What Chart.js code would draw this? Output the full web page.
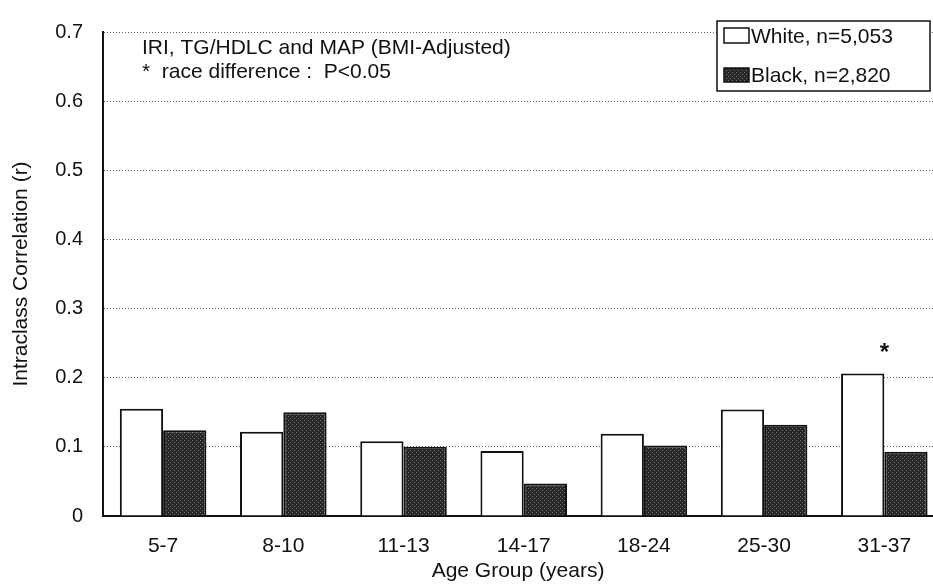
<!DOCTYPE html>
<html>
<head>
<meta charset="utf-8">
<title>Intraclass Correlation by Age Group</title>
<script src="https://cdn.jsdelivr.net/npm/chart.js@4/dist/chart.umd.min.js"></script>
<style>
  body { margin: 0; background: #fff; overflow: hidden; }
  canvas { display: block; }
</style>
</head>
<body>
<canvas id="myChart" width="933" height="585"></canvas>
<script>
'use strict';

// data
let ageGroups = ['5-7', '8-10', '11-13', '14-17', '18-24', '25-30', '31-37'];
let whiteValues = [0.155, 0.122, 0.108, 0.094, 0.119, 0.154, 0.206];
let blackValues = [0.124, 0.150, 0.100, 0.047, 0.102, 0.132, 0.093];
let yTicks = [0, 0.1, 0.2, 0.3, 0.4, 0.5, 0.6, 0.7];
let seriesNames = ['White, n=5,053', 'Black, n=2,820'];
let noteLines = ['IRI, TG/HDLC and MAP (BMI-Adjusted)', '*  race difference :  P<0.05'];
let starGroups = [6];

const FONT = '"Liberation Sans", Arial, Helvetica, sans-serif';

// speckled dark fill like the printed bars
function darkPattern() {
  let c = document.createElement('canvas');
  c.width = 4;
  c.height = 4;
  let g = c.getContext('2d');
  g.fillStyle = '#262626';
  g.fillRect(0, 0, 4, 4);
  g.fillStyle = '#7a7a7a';
  g.fillRect(0, 0, 1, 1);
  g.fillRect(2, 2, 1, 1);
  return g.createPattern(c, 'repeat');
}
const blackFill = darkPattern();

function toPoints(values) {
  let pts = [];
  for (let i = 0; i < values.length; i++) {
    pts.push({ x: i, y: values[i] });
  }
  return pts;
}

// notes, legend box and the asterisk
const extras = {
  id: 'extras',
  afterDraw(chart) {
    const ctx = chart.ctx;
    ctx.save();
    ctx.fillStyle = '#111';
    ctx.font = '21px ' + FONT;
    ctx.textAlign = 'left';
    ctx.textBaseline = 'alphabetic';
    ctx.fillText(noteLines[0], 142, 54);
    ctx.fillText(noteLines[1], 142, 78);

    // legend
    ctx.fillStyle = '#fff';
    ctx.fillRect(717, 21, 213, 70);
    ctx.strokeStyle = '#111';
    ctx.lineWidth = 1.5;
    ctx.strokeRect(717, 21, 213, 70);

    ctx.fillStyle = '#fff';
    ctx.fillRect(724, 28, 25, 15);
    ctx.strokeRect(724, 28, 25, 15);
    ctx.fillStyle = blackFill;
    ctx.fillRect(724, 68, 25, 14);
    ctx.strokeRect(724, 68, 25, 14);

    ctx.fillStyle = '#111';
    ctx.font = '21px ' + FONT;
    ctx.textBaseline = 'middle';
    ctx.fillText(chart.data.datasets[0].label, 751, 37);
    ctx.fillText(chart.data.datasets[1].label, 751, 76);

    // asterisk
    const xs = chart.scales.x;
    const ys = chart.scales.y;
    ctx.font = 'bold 24px ' + FONT;
    ctx.textAlign = 'center';
    for (let i = 0; i < starGroups.length; i++) {
      let k = starGroups[i];
      let top = Math.max(whiteValues[k], blackValues[k]);
      ctx.fillText('*', xs.getPixelForValue(k), ys.getPixelForValue(top) - 20);
    }
    ctx.restore();
  }
};

let ctx = document.getElementById('myChart').getContext('2d');
let myChart = new Chart(ctx, {
  type: 'bar',
  data: {
    datasets: [{
      label: seriesNames[0],
      data: toPoints(whiteValues),
      backgroundColor: '#fff',
      borderColor: '#111',
      borderWidth: 2
    }, {
      label: seriesNames[1],
      data: toPoints(blackValues),
      backgroundColor: blackFill,
      borderColor: '#111',
      borderWidth: 2
    }]
  },
  options: {
    responsive: false,
    animation: false,
    devicePixelRatio: 1,
    categoryPercentage: 0.72,
    barPercentage: 1.0,
    layout: { padding: { top: 19, right: 0, left: 0, bottom: 0 } },
    plugins: {
      legend: { display: false },
      tooltip: { enabled: false }
    },
    scales: {
      x: {
        type: 'linear',
        offset: false,
        min: -0.5,
        max: 6.405,
        grid: { display: false, drawTicks: false },
        border: { display: true, color: '#111', width: 2 },
        afterFit(scale) { scale.height = 69; },
        afterBuildTicks(scale) {
          scale.ticks = ageGroups.map((g, i) => ({ value: i }));
        },
        ticks: {
          padding: 18,
          color: '#111',
          font: { family: FONT, size: 21 },
          callback: (v) => ageGroups[v]
        },
        title: {
          display: true,
          text: 'Age Group (years)',
          color: '#111',
          font: { family: FONT, size: 21 },
          padding: { top: 0, bottom: 1 }
        }
      },
      y: {
        min: 0,
        max: 0.7,
        afterFit(scale) { scale.width = 103; },
        afterBuildTicks(scale) {
          scale.ticks = yTicks.map((v) => ({ value: v }));
        },
        grid: {
          color: '#666',
          lineWidth: 1,
          drawTicks: false
        },
        border: { display: true, color: '#111', width: 2, dash: [1, 2] },
        ticks: {
          padding: 20,
          color: '#111',
          font: { family: FONT, size: 20 },
          callback: (v) => (v === 0 ? '0' : v.toFixed(1))
        },
        title: {
          display: true,
          text: 'Intraclass Correlation (r)',
          color: '#111',
          font: { family: FONT, size: 21 },
          padding: { top: 9, bottom: 0 }
        }
      }
    }
  },
  plugins: [extras]
});
</script>
</body>
</html>
